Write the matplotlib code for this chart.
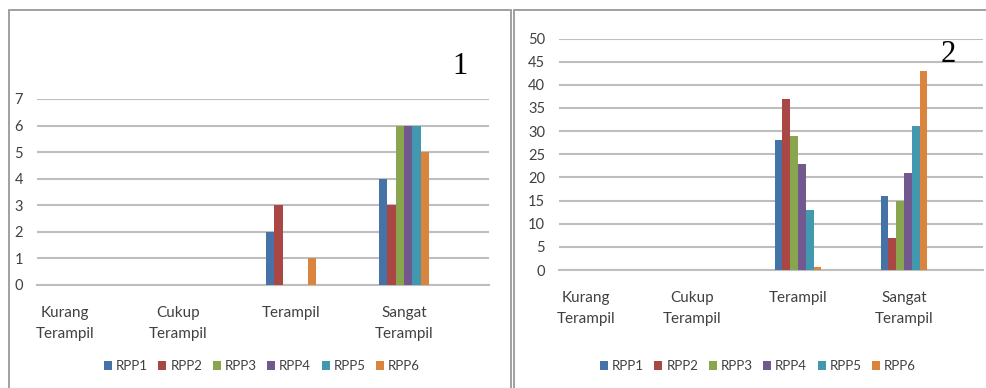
import numpy as np
import matplotlib
matplotlib.use("Agg")
import matplotlib.pyplot as plt
from matplotlib.patches import Rectangle

categories = ["Kurang\nTerampil", "Cukup\nTerampil", "Terampil", "Sangat\nTerampil"]
series = ["RPP1", "RPP2", "RPP3", "RPP4", "RPP5", "RPP6"]

# values per series, chart 1 (left)
left_vals = {
    "RPP1": [0, 0, 2, 4],
    "RPP2": [0, 0, 3, 3],
    "RPP3": [0, 0, 0, 6],
    "RPP4": [0, 0, 0, 6],
    "RPP5": [0, 0, 0, 6],
    "RPP6": [0, 0, 1, 5],
}
# chart 2 (right)
right_vals = {
    "RPP1": [0, 0, 28, 16],
    "RPP2": [0, 0, 37, 7],
    "RPP3": [0, 0, 29, 15],
    "RPP4": [0, 0, 23, 21],
    "RPP5": [0, 0, 13, 31],
    "RPP6": [0, 0, 0.7, 43],
}
colors = ["#4572A7", "#AA4643", "#89A54E", "#71588F", "#4198AF", "#DB843D"]

plt.rcParams["font.family"] = ["Lato", "DejaVu Sans"]

fig = plt.figure(figsize=(9.87, 3.88), dpi=100)

# panel frames
fig.patches.append(Rectangle((9 / 987, -0.1), (511 - 9) / 987, 1.1 - 10 / 388,
                             transform=fig.transFigure, fill=False,
                             edgecolor="#A0A0A0", linewidth=1.4))
fig.patches.append(Rectangle((514 / 987, -0.1), 0.6, 1.1 - 10 / 388,
                             transform=fig.transFigure, fill=False,
                             edgecolor="#A0A0A0", linewidth=1.4))


def draw(ax, vals, ymax, step, xlim, label, lx, ly, catpad, legx):
    x = np.arange(len(categories))
    n = len(series)
    group = 0.44
    w = group / n
    for i, s in enumerate(series):
        ax.bar(x - group / 2 + w * (i + 0.5), vals[s], width=w, color=colors[i],
               label=s, zorder=3, linewidth=0)
    ax.set_xlim(*xlim)
    ax.set_ylim(0, ymax)
    ax.set_yticks(np.arange(0, ymax + step / 2, step))
    ax.yaxis.grid(True, color="#BEBEBE", linewidth=1.5, zorder=0)
    ax.set_axisbelow(True)
    for sp in ["top", "right", "left"]:
        ax.spines[sp].set_visible(False)
    ax.spines["bottom"].set_color("#BEBEBE")
    ax.spines["bottom"].set_linewidth(1.5)
    ax.set_xticks(x)
    ax.set_xticklabels(categories, linespacing=1.65, va="top")
    ax.tick_params(axis="x", length=0, pad=catpad, labelsize=11, labelcolor="#404040")
    ax.tick_params(axis="y", length=0, pad=10, labelsize=10.5, labelcolor="#404040")
    fig.text(lx, ly, label, family="Liberation Serif", fontsize=22, ha="center", va="center")
    leg = ax.legend(loc="center", bbox_to_anchor=(legx, 22 / 388), bbox_transform=fig.transFigure,
                    ncol=6, frameon=False, fontsize=9.5, handlelength=0.6, handleheight=0.6,
                    handletextpad=0.3, columnspacing=0.8, borderpad=0)
    for t in leg.get_texts():
        t.set_color("#404040")


ax1 = fig.add_axes([37 / 987, (388 - 285) / 388, 452 / 987, 186 / 388])
draw(ax1, left_vals, 7, 1, (-0.248, 3.752), "1", 460 / 987, 1 - 66 / 388, 15, 262 / 987)

ax2 = fig.add_axes([559 / 987, (388 - 270) / 388, 424 / 987, 231.5 / 388])
draw(ax2, right_vals, 50, 5, (-0.255, 3.745), "2", 948 / 987, 1 - 55 / 388, 15, 758 / 987)

fig.savefig("out.png", dpi=100)
